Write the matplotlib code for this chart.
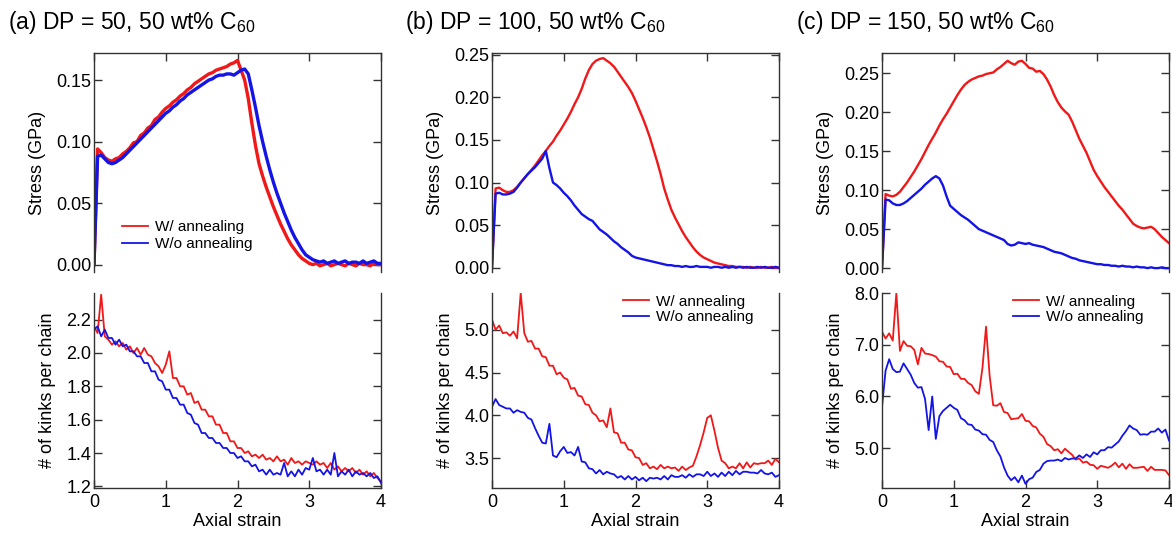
import numpy as np
import matplotlib
matplotlib.use("Agg")
import matplotlib.pyplot as plt

plt.rcParams['font.family'] = ['Liberation Sans', 'DejaVu Sans']
plt.rcParams['mathtext.fontset'] = 'custom'
plt.rcParams['mathtext.rm'] = 'Liberation Sans'
plt.rcParams['mathtext.it'] = 'Liberation Sans:italic'

# axial strain grid (0 to 4, step 0.05)
strain = np.linspace(0, 4, 81)

# ---- (a) DP = 50 ----
stress_a_ann = [0.000, 0.094, 0.091, 0.087, 0.085, 0.084, 0.086, 0.087, 0.090, 0.092,
                0.095, 0.099, 0.100, 0.105, 0.107, 0.111, 0.113, 0.118, 0.120, 0.124,
                0.127, 0.129, 0.132, 0.134, 0.137, 0.139, 0.142, 0.144, 0.147, 0.149,
                0.151, 0.153, 0.155, 0.156, 0.158, 0.159, 0.160, 0.161, 0.163, 0.164,
                0.166, 0.158, 0.150, 0.135, 0.115, 0.097, 0.082, 0.072, 0.063, 0.055,
                0.047, 0.040, 0.033, 0.027, 0.021, 0.016, 0.012, 0.008, 0.005, 0.003,
                0.001, 0.000, 0.001, -0.001, 0.000, 0.001, -0.001, 0.000, 0.001, 0.000,
                -0.001, 0.001, 0.000, -0.001, 0.001, 0.000, 0.000, -0.001, 0.001, 0.000,
                0.000]
stress_a_no = [0.000, 0.088, 0.089, 0.086, 0.083, 0.082, 0.083, 0.085, 0.087, 0.090,
               0.093, 0.096, 0.099, 0.102, 0.105, 0.108, 0.111, 0.114, 0.117, 0.120,
               0.123, 0.125, 0.128, 0.130, 0.133, 0.135, 0.138, 0.140, 0.142, 0.144,
               0.146, 0.148, 0.150, 0.151, 0.153, 0.154, 0.154, 0.155, 0.155, 0.154,
               0.156, 0.158, 0.159, 0.155, 0.142, 0.128, 0.113, 0.100, 0.088, 0.077,
               0.067, 0.058, 0.050, 0.042, 0.035, 0.028, 0.022, 0.017, 0.012, 0.008,
               0.006, 0.004, 0.003, 0.002, 0.003, 0.001, 0.002, 0.003, 0.001, 0.002,
               0.003, 0.001, 0.002, 0.002, 0.001, 0.003, 0.001, 0.002, 0.003, 0.001,
               0.001]
kinks_a_ann = [2.16, 2.12, 2.35, 2.10, 2.08, 2.05, 2.07, 2.04, 2.06, 2.02,
               2.04, 2.00, 2.03, 1.99, 2.03, 1.99, 1.98, 1.94, 1.92, 1.88,
               1.93, 2.01, 1.85, 1.85, 1.80, 1.80, 1.75, 1.76, 1.70, 1.71,
               1.66, 1.66, 1.62, 1.62, 1.57, 1.57, 1.52, 1.52, 1.47, 1.47,
               1.43, 1.43, 1.40, 1.41, 1.38, 1.39, 1.37, 1.39, 1.36, 1.37,
               1.35, 1.38, 1.35, 1.36, 1.33, 1.37, 1.34, 1.35, 1.33, 1.35,
               1.34, 1.33, 1.35, 1.33, 1.34, 1.31, 1.34, 1.30, 1.32, 1.29,
               1.31, 1.29, 1.31, 1.28, 1.30, 1.27, 1.29, 1.26, 1.28, 1.25,
               1.23]
kinks_a_no = [2.14, 2.16, 2.10, 2.14, 2.09, 2.09, 2.05, 2.08, 2.04, 2.05,
              2.01, 2.01, 1.98, 1.98, 1.94, 1.94, 1.89, 1.89, 1.84, 1.83,
              1.78, 1.78, 1.73, 1.73, 1.69, 1.69, 1.64, 1.63, 1.58, 1.57,
              1.52, 1.52, 1.49, 1.49, 1.46, 1.46, 1.43, 1.43, 1.40, 1.40,
              1.37, 1.38, 1.35, 1.35, 1.32, 1.33, 1.29, 1.30, 1.27, 1.30,
              1.27, 1.28, 1.27, 1.34, 1.26, 1.29, 1.26, 1.30, 1.27, 1.31,
              1.30, 1.37, 1.29, 1.30, 1.27, 1.30, 1.27, 1.40, 1.26, 1.29,
              1.27, 1.30, 1.26, 1.29, 1.27, 1.28, 1.26, 1.28, 1.25, 1.26,
              1.22]

# ---- (b) DP = 100 ----
stress_b_ann = [0.000, 0.093, 0.094, 0.091, 0.089, 0.089, 0.091, 0.095, 0.100, 0.105,
                0.110, 0.115, 0.120, 0.126, 0.132, 0.137, 0.143, 0.148, 0.155, 0.161,
                0.168, 0.175, 0.183, 0.192, 0.200, 0.210, 0.222, 0.232, 0.239, 0.243,
                0.245, 0.246, 0.243, 0.240, 0.236, 0.230, 0.224, 0.218, 0.212, 0.205,
                0.196, 0.186, 0.176, 0.165, 0.153, 0.139, 0.125, 0.110, 0.093, 0.080,
                0.068, 0.059, 0.051, 0.043, 0.036, 0.030, 0.024, 0.019, 0.015, 0.012,
                0.010, 0.008, 0.006, 0.005, 0.004, 0.003, 0.002, 0.002, 0.001, 0.001,
                0.001, 0.000, 0.001, 0.000, 0.000, 0.001, 0.000, 0.000, 0.001, 0.000,
                0.000]
stress_b_no = [0.000, 0.087, 0.088, 0.086, 0.086, 0.087, 0.089, 0.094, 0.100, 0.105,
               0.110, 0.114, 0.118, 0.123, 0.128, 0.137, 0.117, 0.100, 0.097, 0.093,
               0.088, 0.084, 0.079, 0.073, 0.068, 0.063, 0.060, 0.057, 0.055, 0.050,
               0.045, 0.042, 0.039, 0.035, 0.031, 0.028, 0.024, 0.021, 0.018, 0.014,
               0.012, 0.011, 0.010, 0.009, 0.008, 0.007, 0.006, 0.005, 0.004, 0.003,
               0.003, 0.002, 0.002, 0.001, 0.002, 0.001, 0.001, 0.002, 0.001, 0.001,
               0.001, 0.000, 0.001, 0.001, 0.000, 0.001, 0.000, 0.001, 0.000, 0.001,
               0.000, 0.001, 0.000, 0.000, 0.001, 0.000, 0.001, 0.000, 0.000, 0.001,
               0.000]
kinks_b_ann = [5.12, 5.00, 5.05, 4.96, 4.97, 4.93, 4.98, 4.90, 5.43, 4.96,
               4.86, 4.87, 4.78, 4.78, 4.69, 4.68, 4.58, 4.58, 4.48, 4.50,
               4.44, 4.42, 4.31, 4.32, 4.23, 4.22, 4.13, 4.12, 4.03, 4.00,
               3.93, 3.94, 3.86, 4.08, 3.80, 3.79, 3.68, 3.68, 3.60, 3.59,
               3.51, 3.50, 3.42, 3.44, 3.38, 3.40, 3.37, 3.42, 3.38, 3.40,
               3.38, 3.39, 3.35, 3.40, 3.36, 3.39, 3.41, 3.52, 3.65, 3.80,
               3.97, 4.00, 3.82, 3.62, 3.47, 3.44, 3.38, 3.40, 3.38, 3.44,
               3.38, 3.45, 3.39, 3.44, 3.43, 3.44, 3.44, 3.47, 3.42, 3.49,
               3.45]
kinks_b_no = [4.10, 4.19, 4.12, 4.10, 4.08, 4.08, 4.03, 4.06, 4.04, 4.03,
              3.97, 3.95, 3.85, 3.76, 3.68, 3.67, 3.90, 3.53, 3.51, 3.58,
              3.63, 3.56, 3.57, 3.53, 3.63, 3.46, 3.45, 3.38, 3.37, 3.32,
              3.36, 3.31, 3.34, 3.32, 3.31, 3.27, 3.29, 3.25, 3.29, 3.25,
              3.28, 3.24, 3.27, 3.23, 3.27, 3.26, 3.27, 3.25, 3.29, 3.25,
              3.30, 3.28, 3.28, 3.30, 3.27, 3.31, 3.28, 3.31, 3.31, 3.29,
              3.34, 3.29, 3.32, 3.28, 3.33, 3.29, 3.34, 3.30, 3.35, 3.31,
              3.34, 3.34, 3.33, 3.33, 3.32, 3.36, 3.32, 3.31, 3.33, 3.28,
              3.30]

# ---- (c) DP = 150 ----
stress_c_ann = [0.000, 0.095, 0.093, 0.092, 0.094, 0.098, 0.104, 0.110, 0.117, 0.124,
                0.132, 0.140, 0.149, 0.158, 0.166, 0.174, 0.183, 0.191, 0.198, 0.206,
                0.214, 0.222, 0.229, 0.235, 0.239, 0.242, 0.244, 0.246, 0.247, 0.249,
                0.250, 0.251, 0.255, 0.258, 0.262, 0.266, 0.263, 0.261, 0.265, 0.266,
                0.262, 0.257, 0.256, 0.252, 0.253, 0.249, 0.242, 0.233, 0.222, 0.213,
                0.206, 0.201, 0.197, 0.188, 0.177, 0.166, 0.157, 0.148, 0.137, 0.126,
                0.118, 0.111, 0.104, 0.098, 0.092, 0.086, 0.080, 0.075, 0.069, 0.063,
                0.057, 0.054, 0.052, 0.051, 0.052, 0.053, 0.050, 0.045, 0.040, 0.036,
                0.032]
stress_c_no = [0.000, 0.088, 0.087, 0.083, 0.081, 0.081, 0.083, 0.086, 0.090, 0.094,
               0.098, 0.102, 0.107, 0.111, 0.115, 0.118, 0.115, 0.106, 0.092, 0.080,
               0.076, 0.072, 0.068, 0.065, 0.062, 0.058, 0.054, 0.050, 0.048, 0.046,
               0.044, 0.042, 0.040, 0.038, 0.036, 0.031, 0.029, 0.030, 0.033, 0.032,
               0.031, 0.032, 0.030, 0.029, 0.028, 0.027, 0.025, 0.023, 0.021, 0.020,
               0.019, 0.017, 0.015, 0.013, 0.012, 0.010, 0.009, 0.008, 0.007, 0.006,
               0.005, 0.005, 0.004, 0.004, 0.003, 0.003, 0.002, 0.003, 0.002, 0.002,
               0.001, 0.002, 0.001, 0.001, 0.000, 0.001, 0.000, 0.000, 0.001, 0.000,
               0.000]
kinks_c_ann = [7.25, 7.12, 7.22, 7.08, 8.00, 6.88, 7.07, 6.98, 6.97, 6.90,
               6.62, 6.94, 6.83, 6.82, 6.80, 6.77, 6.68, 6.67, 6.58, 6.57,
               6.43, 6.44, 6.34, 6.34, 6.26, 6.22, 6.10, 6.05, 6.55, 7.35,
               6.40, 5.83, 5.82, 5.87, 5.70, 5.68, 5.56, 5.57, 5.58, 5.66,
               5.53, 5.52, 5.43, 5.40, 5.28, 5.22, 5.08, 5.04, 4.96, 4.98,
               4.90, 4.99, 4.93, 4.87, 4.78, 4.80, 4.72, 4.74, 4.68, 4.67,
               4.60, 4.66, 4.64, 4.62, 4.66, 4.72, 4.63, 4.70, 4.60, 4.69,
               4.62, 4.62, 4.63, 4.64, 4.56, 4.64, 4.58, 4.58, 4.58, 4.57,
               4.48]
kinks_c_no = [5.80, 6.50, 6.72, 6.53, 6.47, 6.48, 6.64, 6.53, 6.42, 6.26,
              6.17, 6.18, 5.95, 5.35, 6.00, 5.18, 5.62, 5.72, 5.78, 5.84,
              5.78, 5.74, 5.58, 5.54, 5.46, 5.45, 5.36, 5.34, 5.27, 5.26,
              5.16, 5.12, 4.96, 4.84, 4.63, 4.47, 4.38, 4.44, 4.34, 4.47,
              4.31, 4.40, 4.43, 4.54, 4.58, 4.70, 4.75, 4.76, 4.76, 4.78,
              4.75, 4.81, 4.78, 4.80, 4.80, 4.86, 4.81, 4.88, 4.83, 4.92,
              4.88, 4.96, 4.96, 5.02, 5.01, 5.07, 5.13, 5.24, 5.33, 5.44,
              5.38, 5.35, 5.26, 5.27, 5.26, 5.32, 5.32, 5.38, 5.30, 5.36,
              5.15]

titles = ['(a) DP = 50, 50 wt% C$_{60}$', '(b) DP = 100, 50 wt% C$_{60}$',
          '(c) DP = 150, 50 wt% C$_{60}$']
stress_ann = [stress_a_ann, stress_b_ann, stress_c_ann]
stress_no = [stress_a_no, stress_b_no, stress_c_no]
kinks_ann = [kinks_a_ann, kinks_b_ann, kinks_c_ann]
kinks_no = [kinks_a_no, kinks_b_no, kinks_c_no]

stress_ylim = [(-0.006, 0.172), (-0.005, 0.252), (-0.005, 0.276)]
stress_ticks = [[0, 0.05, 0.10, 0.15], [0, 0.05, 0.10, 0.15, 0.20, 0.25],
                [0, 0.05, 0.10, 0.15, 0.20, 0.25]]
kinks_ylim = [(1.19, 2.36), (3.15, 5.43), (4.23, 8.0)]
kinks_ticks = [[1.2, 1.4, 1.6, 1.8, 2.0, 2.2], [3.5, 4.0, 4.5, 5.0], [5.0, 6.0, 7.0, 8.0]]

RED = '#f01818'
BLUE = '#1414e6'
SPINE = '#333333'

W, H = 1172, 535
fig = plt.figure(figsize=(W / 100, H / 100), dpi=100)

lefts = [94, 492, 882]
width = 287
stress_lw = [2.4, 1.7, 1.7]


def style(ax, top_panel):
    for s in ax.spines.values():
        s.set_color(SPINE)
        s.set_linewidth(1.0)
    ax.tick_params(axis='y', direction='in', left=True, right=True, length=6,
                   width=1, color=SPINE, labelsize=13, pad=2)
    if top_panel:
        ax.spines['bottom'].set_visible(False)
        ax.tick_params(axis='x', direction='in', top=True, bottom=False,
                       labelbottom=False, length=6, width=1, color=SPINE)
    else:
        ax.spines['top'].set_visible(False)
        ax.tick_params(axis='x', direction='in', top=False, bottom=True,
                       length=6, width=1, color=SPINE, labelsize=13, pad=4)


for i in range(3):
    L = lefts[i]
    ax1 = fig.add_axes([L / W, (H - 272) / H, width / W, 219 / H])
    ax2 = fig.add_axes([L / W, (H - 488) / H, width / W, 195 / H])

    ax1.plot(strain, stress_ann[i], color=RED, lw=stress_lw[i], label='W/ annealing')
    ax1.plot(strain, stress_no[i], color=BLUE, lw=stress_lw[i], label='W/o annealing')
    ax1.set_xlim(0, 4)
    ax1.set_ylim(*stress_ylim[i])
    ax1.set_xticks([0, 1, 2, 3, 4])
    ax1.set_yticks(stress_ticks[i])
    ax1.set_yticklabels(['{:.2f}'.format(v) for v in stress_ticks[i]])
    ax1.set_ylabel('Stress (GPa)', fontsize=13, labelpad=7)
    style(ax1, True)

    ax2.plot(strain, kinks_ann[i], color=RED, lw=1.3, label='W/ annealing')
    ax2.plot(strain, kinks_no[i], color=BLUE, lw=1.3, label='W/o annealing')
    ax2.set_xlim(0, 4)
    ax2.set_ylim(*kinks_ylim[i])
    ax2.set_xticks([0, 1, 2, 3, 4])
    ax2.set_yticks(kinks_ticks[i])
    ax2.set_yticklabels(['{:.1f}'.format(v) for v in kinks_ticks[i]])
    ax2.set_ylabel('# of kinks per chain', fontsize=13, labelpad=7)
    ax2.set_xlabel('Axial strain', fontsize=13, labelpad=2)
    style(ax2, False)

    if i == 0:
        leg = ax1.legend(loc='center left', bbox_to_anchor=(0.097, 0.167), frameon=False,
                         fontsize=11, handlelength=1.7, handletextpad=0.45,
                         labelspacing=0.2, borderpad=0, borderaxespad=0)
    else:
        leg = ax2.legend(loc='center left', bbox_to_anchor=(0.458, 0.915), frameon=False,
                         fontsize=11, handlelength=1.7, handletextpad=0.45,
                         labelspacing=0.1, borderpad=0, borderaxespad=0)
    for ln in leg.get_lines():
        ln.set_linewidth(1.3)

title_x = [8, 405, 796]
for i in range(3):
    fig.text(title_x[i] / W, 1 - 22 / H, titles[i], fontsize=16.5,
             ha='left', va='center')

fig.savefig('out.png', dpi=100)
